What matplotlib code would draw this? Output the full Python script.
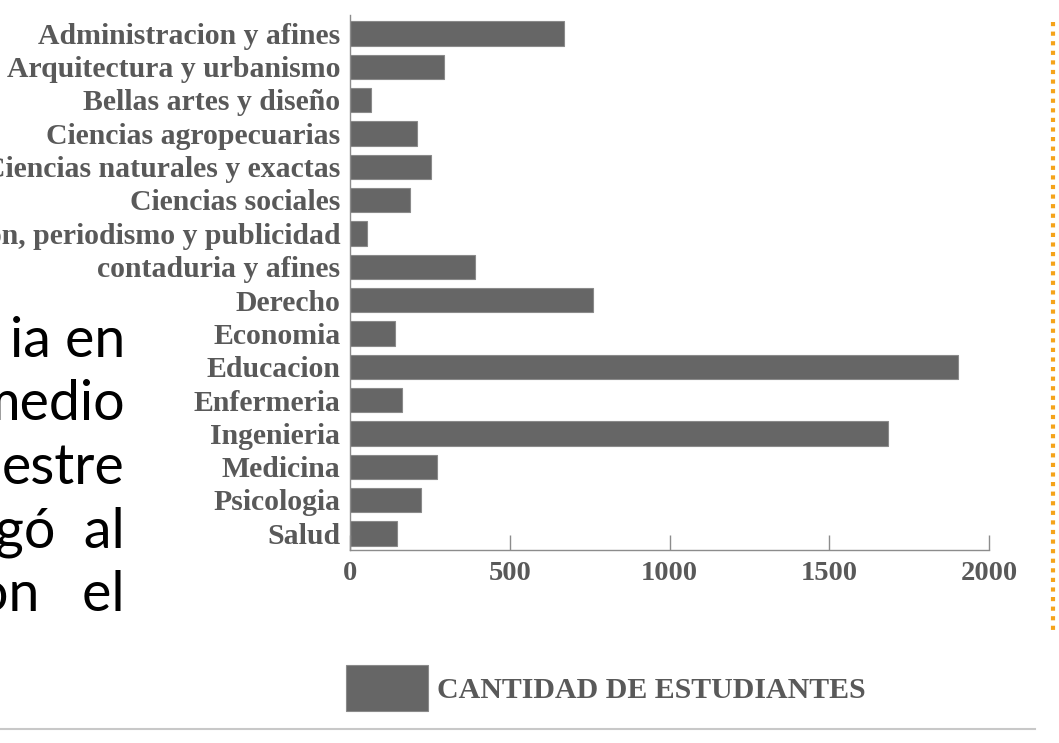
import matplotlib
matplotlib.use("Agg")
import matplotlib.pyplot as plt
from matplotlib.lines import Line2D

categories = [
    "Administracion y afines",
    "Arquitectura y urbanismo",
    "Bellas artes y diseño",
    "Ciencias agropecuarias",
    "Ciencias naturales y exactas",
    "Ciencias sociales",
    "Comunicacion, periodismo y publicidad",
    "contaduria y afines",
    "Derecho",
    "Economia",
    "Educacion",
    "Enfermeria",
    "Ingenieria",
    "Medicina",
    "Psicologia",
    "Salud",
]
values = [669, 295, 66, 209, 254, 189, 54, 391, 762, 142, 1903, 164, 1685, 271, 221, 147]
xticks = [0, 500, 1000, 1500, 2000]
series_label = "CANTIDAD DE ESTUDIANTES"
slide_fragments = ["ia en", "medio", "estre", "gó  al", "on   el"]

W, H = 1059, 743
fig = plt.figure(figsize=(W / 100, H / 100), dpi=100)
fig.patch.set_facecolor("white")

TXT = "#595959"
BAR = "#666666"
serif = ["Liberation Serif", "DejaVu Serif"]

ax = fig.add_axes([350 / W, 1 - 550 / H, (989 - 350) / W, (550 - 15) / H])
ypos = list(range(len(categories)))
ax.barh(ypos, values, height=0.73, color=BAR, edgecolor="#8a8a8a",
        linewidth=0.8, label=series_label)
ax.set_ylim(15.5, -0.55)
ax.set_xlim(0, 2000)
ax.set_yticks(ypos)
ax.set_yticklabels(categories)
ax.set_xticks(xticks)
ax.set_xticklabels([str(t) for t in xticks])
for s in ["top", "right"]:
    ax.spines[s].set_visible(False)
for s in ["left", "bottom"]:
    ax.spines[s].set_color("#8c8c8c")
    ax.spines[s].set_linewidth(1.0)
ax.tick_params(axis="y", length=0, pad=7)
ax.tick_params(axis="x", direction="in", length=11, width=1.0, color="#8c8c8c", pad=8)
for lab in ax.get_yticklabels():
    lab.set_fontfamily(serif)
    lab.set_fontweight("bold")
    lab.set_fontsize(21.4)
    lab.set_color(TXT)
for lab in ax.get_xticklabels():
    lab.set_fontfamily(serif)
    lab.set_fontweight("bold")
    lab.set_fontsize(20.5)
    lab.set_color(TXT)

handle = plt.Rectangle((0, 0), 1, 1, facecolor=BAR, edgecolor="#8a8a8a", linewidth=0.8)
leg = fig.legend([handle], [series_label], loc="center left",
                 bbox_to_anchor=(346 / W, 1 - 688 / H), frameon=False,
                 handlelength=2.75, handleheight=1.95, handletextpad=0.3,
                 borderpad=0, borderaxespad=0,
                 prop={"family": serif, "weight": "bold", "size": 21.5})
for t in leg.get_texts():
    t.set_color(TXT)

# slide text fragments on the left
baselines = [357, 420, 484, 547, 611]
for frag, yb in zip(slide_fragments, baselines):
    fig.text(125 / W, 1 - yb / H, frag, ha="right", va="baseline",
             fontsize=40, family=["Lato", "DejaVu Sans"], color="#000000")

# orange dotted vertical line on right
fig.add_artist(Line2D([1053 / W, 1053 / W], [1 - 22 / H, 1 - 632 / H],
                      transform=fig.transFigure, color="#f5a31a",
                      linewidth=3, linestyle=(0, (1, 1.3))))
# gray bottom line
fig.add_artist(Line2D([0, 1035 / W], [1 - 729 / H, 1 - 729 / H],
                      transform=fig.transFigure, color="#c8c8c8", linewidth=1.5))

fig.savefig("out.png", dpi=100)
